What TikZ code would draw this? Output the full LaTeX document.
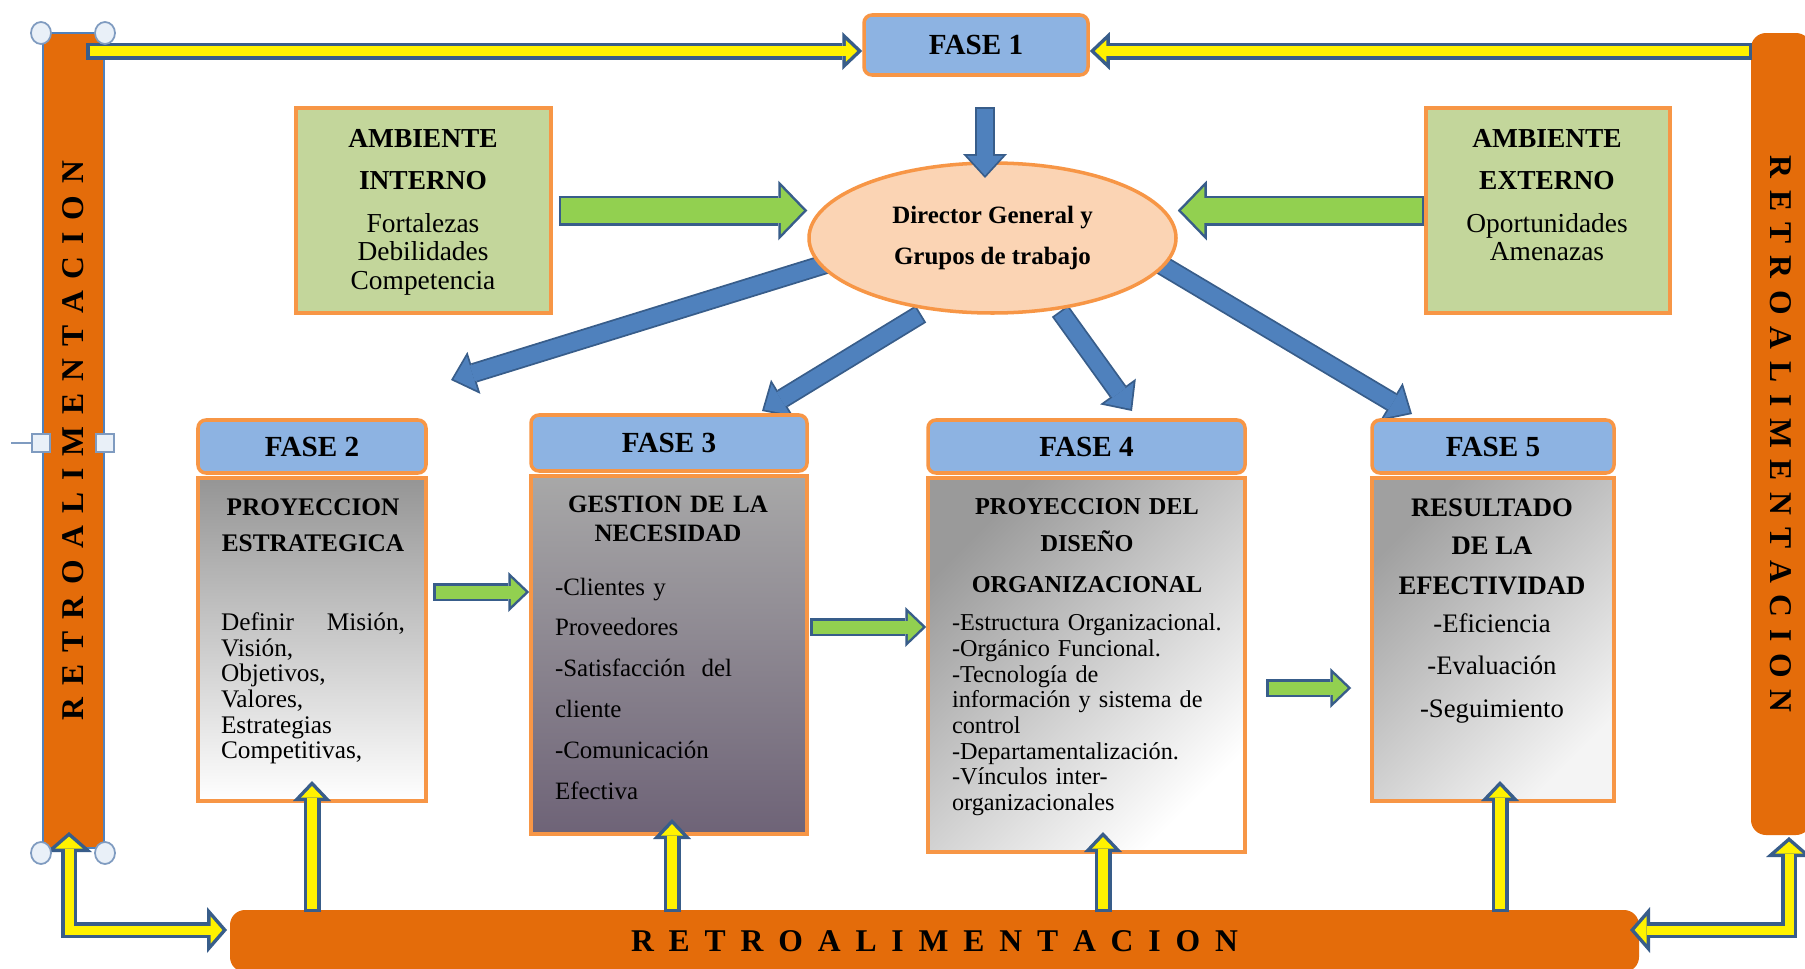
\documentclass[tikz,border=0pt]{standalone}
\usepackage{fontspec}
\setmainfont{Liberation Serif}
\usetikzlibrary{shapes.geometric,arrows.meta,calc}

\definecolor{barorange}{HTML}{E46C0A}
\definecolor{edgeorange}{HTML}{F79646}
\definecolor{headblue}{HTML}{8DB3E2}
\definecolor{ambgreen}{HTML}{C3D69B}
\definecolor{dirpeach}{HTML}{FBD4B4}
\definecolor{arrowblue}{HTML}{4F81BD}
\definecolor{arrowline}{HTML}{385D8A}
\definecolor{arrowgreen}{HTML}{92D050}
\definecolor{handlefill}{HTML}{E9F0F8}
\definecolor{handleline}{HTML}{7F9BC0}
\definecolor{fasetwotop}{HTML}{959595}
\definecolor{fasethreetop}{HTML}{A8A8A8}
\definecolor{fasethreebot}{HTML}{6E6377}
\definecolor{fasefourtop}{HTML}{9A9A9A}
\definecolor{fasefivetop}{HTML}{A0A0A0}
\definecolor{fasefivebot}{HTML}{F4F4F4}

% block arrow: fill, outline, shaft, head width, head length, border (mm), path
\newcommand\blockarrow[7]{%
  \pgfmathsetmacro\bainset{#6*veclen(#4/2,#5)/(#4/2)}%
  \pgfmathsetmacro\balen{#5-#6-\bainset}%
  \pgfmathsetmacro\bawid{#4*\balen/#5}%
  \pgfmathsetmacro\bashaft{#3-2*#6}%
  \draw[#2,line width=#3mm,line join=miter,-{Triangle[width=#4mm,length=#5mm,line width=0pt]}] #7;
  \draw[#1,line width=\bashaft mm,line join=miter,shorten <=#6mm,shorten >=\bainset mm,-{Triangle[width=\bawid mm,length=\balen mm,line width=0pt]}] #7;
}
\newcommand\blockarrowboth[7]{%
  \pgfmathsetmacro\bainset{#6*veclen(#4/2,#5)/(#4/2)}%
  \pgfmathsetmacro\balen{#5-#6-\bainset}%
  \pgfmathsetmacro\bawid{#4*\balen/#5}%
  \pgfmathsetmacro\bashaft{#3-2*#6}%
  \draw[#2,line width=#3mm,line join=miter,{Triangle[width=#4mm,length=#5mm,line width=0pt]}-{Triangle[width=#4mm,length=#5mm,line width=0pt]}] #7;
  \draw[#1,line width=\bashaft mm,line join=miter,shorten <=\bainset mm,shorten >=\bainset mm,{Triangle[width=\bawid mm,length=\balen mm,line width=0pt]}-{Triangle[width=\bawid mm,length=\balen mm,line width=0pt]}] #7;
}
\newcommand\yellowarrow[1]{\blockarrow{yellow}{arrowline}{1.7}{3.8}{2.0}{0.35}{#1}}
\newcommand\yellowelbow[1]{\blockarrowboth{yellow}{arrowline}{1.6}{4.6}{2.0}{0.35}{#1}}
\newcommand\greenarrow[1]{\blockarrow{arrowgreen}{arrowline}{3.0}{6.0}{2.9}{0.25}{#1}}
\newcommand\smallgreen[1]{\blockarrow{arrowgreen}{arrowline}{1.8}{4.0}{2.1}{0.25}{#1}}
\newcommand\bluearrow[1]{\blockarrow{arrowblue}{arrowline}{2.0}{4.4}{2.4}{0.18}{#1}}

\begin{document}
\begin{tikzpicture}[x=0.1mm,y=-0.1mm,
  bar/.style={fill=barorange,inner sep=0pt,font=\fontsize{9}{10}\selectfont\bfseries},
  fasehead/.style={fill=headblue,draw=edgeorange,line width=1pt,rounded corners=0.8mm,font=\fontsize{8.3}{9}\selectfont\bfseries},
  fasebody/.style={draw=edgeorange,line width=1pt},
  ambbox/.style={fill=ambgreen,draw=edgeorange,line width=1pt},
  boxtext/.style={anchor=north,inner sep=0pt}]
\fill[white] (0,0) rectangle (1805,969);
\useasboundingbox (0,0) rectangle (1805,969);

% retroalimentacion
\node[bar,draw=arrowblue,line width=0.4pt,rotate=90,minimum width=81.5mm,minimum height=6.1mm] (retroizq) at (73.5,440.5) {\spaceskip=3.39pt\relax R E T R O A L I M E N T A C I O N};
\node[bar,rounded corners=1.5mm,rotate=-90,minimum width=80.2mm,minimum height=6mm] (retroder) at (1781,434) {\spaceskip=3.34pt\relax R E T R O A L I M E N T A C I O N};
\node[bar,rounded corners=1.5mm,minimum width=140.9mm,minimum height=6.2mm] (retroinf) at (934.5,941) {\spaceskip=4.23pt\relax R E T R O A L I M E N T A C I O N};

% fase 1
\node[fasehead,minimum width=22.4mm,minimum height=6mm] (fase1) at (976,45) {FASE 1};
\coordinate (tizq) at (86,51);
\coordinate (tder) at (1752,51);
\yellowarrow{(tizq) -- (tizq -| fase1.west)}
\yellowarrow{(tder) -- (tder -| fase1.east)}

% director hacia las fases
\coordinate (d2a) at (842,259); \coordinate (d2b) at (451,380);
\coordinate (d3a) at (921,314); \coordinate (d3b) at (762,411);
\coordinate (d4a) at (1060,311); \coordinate (d4b) at (1132,411);
\coordinate (d5a) at (1150,258); \coordinate (d5b) at (1412,414);
\bluearrow{(d2a) -- (d2b)}
\bluearrow{(d3a) -- (d3b)}
\bluearrow{(d4a) -- (d4b)}
\bluearrow{(d5a) -- (d5b)}

\node[ellipse,fill=dirpeach,draw=edgeorange,line width=1pt,minimum width=36.7mm,minimum height=15mm,inner sep=0pt,align=center,font=\fontsize{7.1}{11.4}\selectfont\bfseries] (dir) at (992.5,238) {Director General y\\Grupos de trabajo};
\coordinate (dtop) at (985,107);
\coordinate (dtip) at (985,178);
\bluearrow{(dtop) -- (dtip)}

% ambientes
\node[ambbox,minimum width=25.5mm,minimum height=20.5mm] (ambint) at (423.5,210.5) {};
\node[boxtext,align=center,font=\fontsize{7.8}{8.1}\selectfont] (ambinttxt) at (423,129) {\textbf{AMBIENTE}\\[3.8pt]\textbf{INTERNO}\\[4.1pt]Fortalezas\\Debilidades\\Competencia};
\node[ambbox,minimum width=24.4mm,minimum height=20.5mm] (ambext) at (1548,210.5) {};
\node[boxtext,align=center,font=\fontsize{7.8}{8.1}\selectfont] (ambexttxt) at (1547,129) {\textbf{AMBIENTE}\\[3.8pt]\textbf{EXTERNO}\\[4.1pt]Oportunidades\\Amenazas};
\greenarrow{([xshift=0.6mm]ambint.east) -- (ambint.east -| dir.west)}
\greenarrow{(ambext.west) -- (ambext.west -| dir.east)}

% fases
\node[fasehead,minimum width=22.8mm,minimum height=5.3mm] (fase2h) at (312,446.5) {FASE 2};
\node[fasebody,top color=fasetwotop,bottom color=white,minimum width=22.8mm,minimum height=32.3mm] (fase2b) at (312,639.5) {};
\node[boxtext,text width=18.4mm,align=left,font=\fontsize{7.2}{7.3}\selectfont] (fase2txt) at (313,498) {\hfill\textbf{PROYECCION}\hfill\null\\[2.9pt]
\hfill\textbf{ESTRATEGICA}\hfill\null\\[15.2pt]
Definir\hfill Misión,\\ Visión,\\ Objetivos,\\ Valores,\\ Estrategias\\ Competitivas,};

\node[fasehead,minimum width=27.6mm,minimum height=5.6mm] (fase3h) at (669,443) {FASE 3};
\node[fasebody,top color=fasethreetop,bottom color=fasethreebot,minimum width=27.6mm,minimum height=35.8mm] (fase3b) at (669,655) {};
\node[boxtext,text width=22.6mm,align=left,font=\fontsize{7.1}{8.2}\selectfont] (fase3txt) at (668,495) {\hfill\textbf{GESTION DE LA}\hfill\null\\
\hfill\textbf{NECESIDAD}\hfill\null\\[7.2pt]
-Clientes y\\[3.4pt]
Proveedores\\[3.4pt]
\makebox[17.7mm][s]{-Satisfacción\hfill del}\\[3.4pt]
cliente\\[3.4pt]
-Comunicación\\[3.4pt]
Efectiva};

\node[fasehead,minimum width=31.7mm,minimum height=5.3mm] (fase4h) at (1086.5,446.5) {FASE 4};
\node[fasebody,top color=fasefourtop,bottom color=white,shading angle=45,minimum width=31.7mm,minimum height=37.4mm] (fase4b) at (1086.5,665) {};
\node[boxtext,text width=27mm,align=left,font=\fontsize{6.9}{7.3}\selectfont] (fase4txt) at (1087,498) {\hfill\textbf{PROYECCION DEL}\hfill\null\\[3.2pt]
\hfill\textbf{DISEÑO}\hfill\null\\[4.4pt]
\hfill\textbf{ORGANIZACIONAL}\hfill\null\\[3.5pt]
-Estructura Organizacional.\\ -Orgánico Funcional.\\ -Tecnología de\\ información y sistema de\\ control\\ -Departamentalización.\\ -Vínculos inter-\\ organizacionales};

\node[fasehead,minimum width=24.2mm,minimum height=5.3mm] (fase5h) at (1493,446.5) {FASE 5};
\node[fasebody,top color=fasefivetop,bottom color=fasefivebot,shading angle=45,minimum width=24.2mm,minimum height=32.3mm] (fase5b) at (1493,639.5) {};
\node[boxtext,align=center,font=\fontsize{7.6}{10.8}\selectfont] (fase5txt) at (1492,498) {\textbf{RESULTADO}\\\textbf{DE LA}\\[0.5pt]\textbf{EFECTIVIDAD}\\-Eficiencia\\[1.4pt]-Evaluación\\[1.4pt]-Seguimiento};

% entre fases
\coordinate (g23) at (433,592);
\coordinate (g34) at (810,627);
\coordinate (g45) at (1266,688);
\smallgreen{(g23) -- (g23 -| fase3b.west)}
\smallgreen{(g34) -- (g34 -| fase4b.west)}
\smallgreen{(g45) -- ($(g45 -| fase5b.west)+(-19,0)$)}

% retroalimentacion hacia las fases
\coordinate (up2a) at (312,912); \coordinate (up2b) at (312,781);
\coordinate (up3a) at (672,912); \coordinate (up3b) at (672,819);
\coordinate (up4a) at (1103,912); \coordinate (up4b) at (1103,832);
\coordinate (up5a) at (1500,912); \coordinate (up5b) at (1500,781);
\yellowarrow{(up2a) -- (up2b)}
\yellowarrow{(up3a) -- (up3b)}
\yellowarrow{(up4a) -- (up4b)}
\yellowarrow{(up5a) -- (up5b)}

\coordinate (eizqa) at (227,930); \coordinate (eizqb) at (69,832);
\coordinate (edera) at (1630,930); \coordinate (ederb) at (1789,837);
\yellowelbow{(eizqa) -| (eizqb)}
\yellowelbow{(edera) -| (ederb)}

% handles
\foreach \hx/\hy in {41/33,105/33,41/853,105/853}
  \filldraw[fill=handlefill,draw=handleline,line width=0.5pt] (\hx,\hy) ellipse [x radius=1mm,y radius=1.1mm];
\draw[handleline,line width=0.5pt] (11,443) -- (32,443);
\filldraw[fill=handlefill,draw=handleline,line width=0.5pt] (32,434) rectangle (50,452);
\filldraw[fill=handlefill,draw=handleline,line width=0.5pt] (96,434) rectangle (114,452);
\end{tikzpicture}
\end{document}
